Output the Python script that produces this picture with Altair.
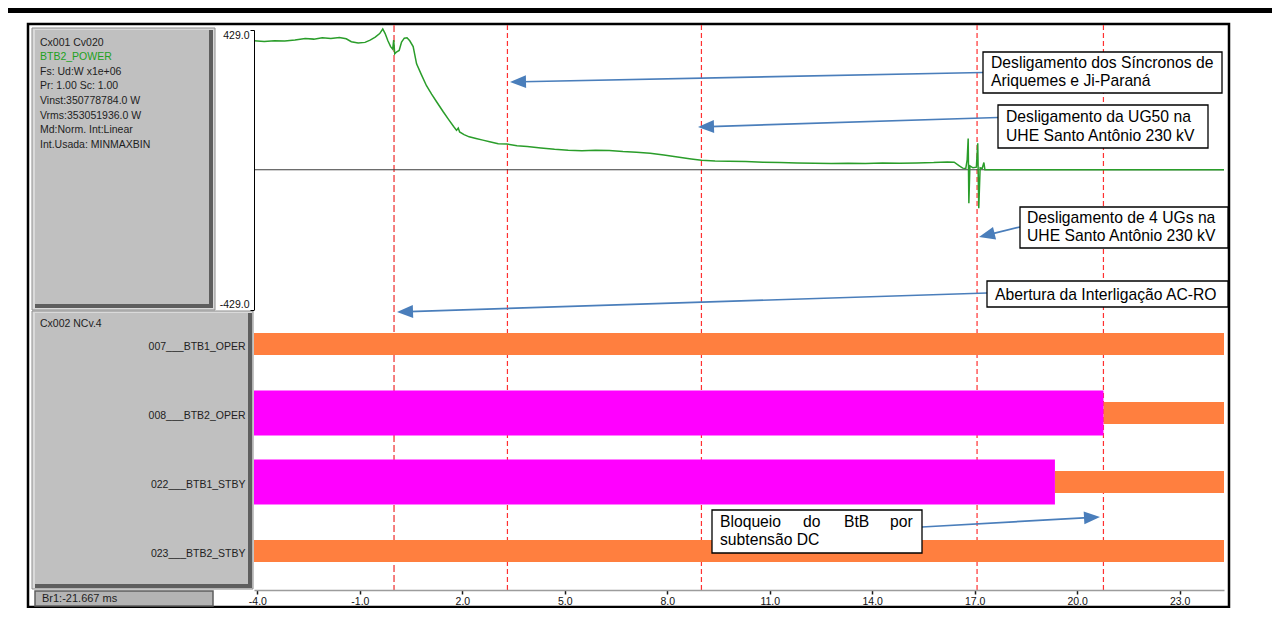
import math
import altair as alt
import pandas as pd

# ---------------- values ----------------
t_power = [-4.10, -3.80, -3.50, -3.20, -2.90, -2.60, -2.35, -2.10, -1.85, -1.60,
           -1.40, -1.25, -1.05, -0.85, -0.70, -0.55, -0.42, -0.33, -0.26, -0.18,
           -0.10, -0.04, -0.01, 0.02, 0.08, 0.15, 0.22, 0.30, 0.38, 0.46,
           0.56, 0.66, 0.80, 0.95, 1.10, 1.25, 1.44, 1.60, 1.75, 1.83,
           1.88, 1.92, 2.05, 2.20, 2.40, 2.60, 2.80, 3.05, 3.30, 3.60,
           3.90, 4.30, 4.70, 5.10, 5.50, 5.90, 6.30, 6.70, 7.10, 7.50,
           7.90, 8.30, 8.70, 9.00, 9.40, 9.80, 10.30, 10.80, 11.30, 11.80,
           12.30, 12.80, 13.30, 13.80, 14.30, 14.80, 15.30, 15.80, 16.20, 16.40,
           16.55, 16.65, 16.74, 16.78, 16.81, 16.83, 16.86, 16.95, 17.05, 17.09,
           17.12, 17.16, 17.22, 17.27, 17.30, 24.30]
p_power = [396, 394, 396, 395, 398, 403, 401, 405, 403, 406,
           402, 393, 389, 391, 398, 407, 418, 432, 418, 396,
           378, 370, 398, 356, 362, 366, 392, 404, 405, 396,
           378, 325, 292, 258, 232, 208, 178, 154, 132, 121,
           128, 116, 108, 101, 96, 91, 86, 80, 79, 74,
           71, 67, 63, 60, 58, 60, 59, 56, 54, 51,
           45, 39, 33, 29, 27, 26, 25, 23, 22, 21,
           20, 19, 20, 19, 21, 20, 21, 22, 24, 23,
           12, 5, 4, 30, 96, -103, 12, 6, 8, 81,
           -118, 6, 4, 22, 0, 0]

signal_names = ["007___BTB1_OPER", "008___BTB2_OPER", "022___BTB1_STBY", "023___BTB2_STBY"]
seg_signal = ["007___BTB1_OPER", "008___BTB2_OPER", "008___BTB2_OPER",
              "022___BTB1_STBY", "022___BTB1_STBY", "023___BTB2_STBY"]
seg_start = [-4.1, -4.1, 20.77, -4.1, 19.35, -4.1]
seg_end = [24.3, 20.77, 24.3, 19.35, 24.3, 24.3]
seg_state = [0, 1, 0, 1, 0, 0]

event_times = [0.0, 3.32, 9.0, 17.07, 20.77]
x_ticks = [-4.0, -1.0, 2.0, 5.0, 8.0, 11.0, 14.0, 17.0, 20.0, 23.0]
x_limits = [-4.1, 24.3]
y_limits = [-429.0, 429.0]

info_lines = ["Cx001 Cv020", "BTB2_POWER", "Fs: Ud:W x1e+06", "Pr: 1.00  Sc: 1.00",
              "Vinst:350778784.0 W", "Vrms:353051936.0 W", "Md:Norm.  Int:Linear",
              "Int.Usada: MINMAXBIN"]
group2_title = "Cx002 NCv.4"
cursor_label = "Br1:-21.667 ms"

note_texts = [
    ["Desligamento dos Síncronos de", "Ariquemes e Ji-Paraná"],
    ["Desligamento da UG50 na", "UHE Santo Antônio 230 kV"],
    ["Desligamento de 4 UGs na", "UHE Santo Antônio 230 kV"],
    ["Abertura da Interligação AC-RO"],
    ["Bloqueio", "do", "BtB", "por", "subtensão DC"],
]

# ---------------- layout (page pixels) ----------------
OX, OY = 254, 30
W, H = 970, 560
TOP_RANGE = [279.5, 0]
BAND_RANGE = [279.5, 555.5]
FONT = "Liberation Sans"
LABEL_EXPR = "(datum.value < 0 ? '-' : '') + format(abs(datum.value), '.1f')"


def gx(v):
    return v - OX


def gy(v):
    return v - OY


x_scale = alt.Scale(domain=x_limits, nice=False, zero=False)
x_axis = alt.Axis(values=x_ticks, labelExpr=LABEL_EXPR, grid=False, title=None,
                  domainColor="#9c9c9c", domainWidth=1.5, tickColor="#1a1a1a",
                  tickWidth=1.5, tickSize=4, labelPadding=2, labelFontSize=10.5,
                  labelColor="#111111", labelFont=FONT, labelFlush=False,
                  labelOverlap=False, zindex=1)


def X(field):
    return alt.X(field, type="quantitative", scale=x_scale, axis=x_axis)


def PX(field):
    return alt.X(field, type="quantitative", scale=None, axis=None)


def PY(field):
    return alt.Y(field, type="quantitative", scale=None, axis=None)


# ---------------- power trace panel ----------------
power_df = pd.DataFrame({"t": t_power, "p": p_power})
top_scale = alt.Scale(domain=y_limits, range=TOP_RANGE, nice=False, zero=False)
top_axis = alt.Axis(orient="left", values=y_limits, labelExpr=LABEL_EXPR, labelFlush=True,
                    grid=False, title=None, domainColor="#000000", tickColor="#000000",
                    tickSize=4, labelPadding=1, labelFontSize=10.5, labelFont=FONT,
                    labelColor="#111111", zindex=1)

zero_line = alt.Chart(pd.DataFrame({"p": [0.0]})).mark_rule(
    color="#3c3c3c", strokeWidth=1).encode(
    y=alt.Y("p:Q", scale=top_scale, axis=top_axis))
power_line = alt.Chart(power_df).mark_line(color="#2a9d2a", strokeWidth=1.5).encode(
    x=X("t"), y=alt.Y("p:Q", scale=top_scale, axis=top_axis))
top_panel = alt.layer(zero_line, power_line)

# ---------------- digital channels panel ----------------
seg_df = pd.DataFrame({"signal": seg_signal, "start": seg_start,
                       "end": seg_end, "state": seg_state})
band_y = alt.Y("signal:N",
               scale=alt.Scale(domain=signal_names, range=BAND_RANGE,
                               paddingInner=0, paddingOuter=0),
               axis=alt.Axis(orient="left", domain=False, ticks=False, labelPadding=9,
                             labelFont=FONT, labelFontSize=10.5, labelColor="#222222",
                             labelOffset=3, title=None, zindex=1))
bars_off = alt.Chart(seg_df).transform_filter("datum.state == 0").mark_bar(
    color="#FF7F3F", size=22).encode(x=X("start"), x2="end", y=band_y)
bars_on = alt.Chart(seg_df).transform_filter("datum.state == 1").mark_bar(
    color="#FF00FF", size=45).encode(x=X("start"), x2="end", y=band_y)
bars_panel = alt.layer(bars_off, bars_on)

# ---------------- event cursors ----------------
ev_df = pd.DataFrame({"t": event_times})
trip_rule = alt.Chart(ev_df.iloc[:1]).mark_rule(
    color="#F26060", strokeWidth=1.6, strokeDash=[7, 3]).encode(
    x=X("t"), y=alt.value(gy(25)), y2=alt.value(gy(590)))
event_rules = alt.Chart(ev_df.iloc[1:]).mark_rule(
    color="#FF3030", strokeWidth=1.2, strokeDash=[5, 3]).encode(
    x=X("t"), y=alt.value(gy(25)), y2=alt.value(gy(590)))

# ---------------- decorations (frame, side panels) ----------------
deco_rects = [
    # x0, y0, x1, y1, fill, stroke, stroke width
    (8, 8, 1272, 13, "#000000", "transparent", 0),
    (28, 24, 1229, 607, "transparent", "#000000", 2.5),
    (32, 28, 215, 310, "#dadada", "#8c8c8c", 1),
    (35, 30, 213, 308, "#5e5e5e", "transparent", 0),
    (35, 30, 209, 304, "#c0c0c0", "transparent", 0),
    (32, 311, 253, 589, "#dadada", "#8c8c8c", 1),
    (35, 313, 252, 588, "#5e5e5e", "transparent", 0),
    (35, 313, 248, 584, "#c0c0c0", "transparent", 0),
    (35, 591, 213, 606, "#b4b4b4", "#5e5e5e", 1.5),
]
deco_df = pd.DataFrame({
    "x0": [gx(r[0]) for r in deco_rects], "y0": [gy(r[1]) for r in deco_rects],
    "x1": [gx(r[2]) for r in deco_rects], "y1": [gy(r[3]) for r in deco_rects],
    "fill": [r[4] for r in deco_rects], "stroke": [r[5] for r in deco_rects],
    "sw": [r[6] for r in deco_rects]})
deco = alt.Chart(deco_df).mark_rect().encode(
    x=PX("x0"), x2="x1", y=PY("y0"), y2="y1",
    fill=alt.Fill("fill:N", scale=None), stroke=alt.Stroke("stroke:N", scale=None),
    strokeWidth=alt.StrokeWidth("sw:Q", scale=None))

side_texts = []
for i, line in enumerate(info_lines):
    side_texts.append((line, 40, 42.5 + 14.6 * i, "#22a022" if i == 1 else "#1e1e1e", 10.5))
side_texts.append((group2_title, 40, 324, "#1e1e1e", 10.5))
side_texts.append((cursor_label, 42, 599, "#1e1e1e", 11))
side_df = pd.DataFrame({"text": [s[0] for s in side_texts],
                        "x": [gx(s[1]) for s in side_texts],
                        "y": [gy(s[2]) for s in side_texts],
                        "color": [s[3] for s in side_texts],
                        "size": [s[4] for s in side_texts]})
side_text = alt.Chart(side_df).mark_text(align="left", baseline="middle", font=FONT).encode(
    x=PX("x"), y=PY("y"), text="text:N",
    color=alt.Color("color:N", scale=None), size=alt.Size("size:Q", scale=None))

# ---------------- annotations ----------------
note_boxes = [(983, 52, 1222, 93), (998, 105, 1208, 148), (1020, 207, 1228, 248),
              (987, 281, 1228, 307), (712, 510, 922, 553)]
note_text_pos = [
    [(991, 62.5), (991, 81)],
    [(1006, 117), (1006, 135.5)],
    [(1027, 217.5), (1027, 236)],
    [(995, 294.5)],
    [(720, 522), (803, 522), (844, 522), (890, 522), (720, 540)],
]
note_arrows = [(983, 72.5, 510, 82), (998, 117.5, 698, 127), (1020, 227, 979, 237),
               (987, 293, 397, 312), (922, 527, 1100, 517)]

box_df = pd.DataFrame({"x0": [gx(b[0]) for b in note_boxes], "y0": [gy(b[1]) for b in note_boxes],
                       "x1": [gx(b[2]) for b in note_boxes], "y1": [gy(b[3]) for b in note_boxes]})
txt_rows = []
for texts, poss in zip(note_texts, note_text_pos):
    for s, (tx, ty) in zip(texts, poss):
        txt_rows.append({"text": s, "x": gx(tx), "y": gy(ty)})
txt_df = pd.DataFrame(txt_rows)

arrow_rows, head_rows = [], []
for sx, sy, tx, ty in note_arrows:
    dx, dy = tx - sx, ty - sy
    d = math.hypot(dx, dy)
    ux, uy = dx / d, dy / d
    arrow_rows.append({"x0": gx(sx), "y0": gy(sy), "x1": gx(tx - 12 * ux), "y1": gy(ty - 12 * uy)})
    head_rows.append({"x": gx(tx - 8 * ux), "y": gy(ty - 8 * uy),
                      "ang": math.degrees(math.atan2(dy, dx)) % 360})
arrow_df = pd.DataFrame(arrow_rows)
head_df = pd.DataFrame(head_rows)

ARROW_BLUE = "#4A7EBB"
note_lines = alt.Chart(arrow_df).mark_rule(color=ARROW_BLUE, strokeWidth=1.7).encode(
    x=PX("x0"), x2="x1", y=PY("y0"), y2="y1")
note_heads = alt.Chart(head_df).mark_point(
    shape="M1,0L-1,-0.8L-1,0.8Z", filled=True, size=256, color=ARROW_BLUE,
    opacity=1, strokeWidth=0).encode(
    x=PX("x"), y=PY("y"), angle=alt.Angle("ang:Q", scale=None))
note_box = alt.Chart(box_df).mark_rect(fill="white", stroke="black", strokeWidth=1.3).encode(
    x=PX("x0"), x2="x1", y=PY("y0"), y2="y1")
note_text = alt.Chart(txt_df).mark_text(
    align="left", baseline="middle", font=FONT, fontSize=15.7, color="black").encode(
    x=PX("x"), y=PY("y"), text="text:N")

chart = alt.layer(
    deco, trip_rule, event_rules, bars_panel, top_panel, side_text,
    note_lines, note_heads, note_box, note_text
).resolve_scale(y="independent").properties(
    width=W, height=H,
    padding={"left": 246, "top": 22, "right": 48, "bottom": 18},
    autosize=alt.AutoSizeParams(type="none"),
    background="white",
).configure_view(stroke=None)

chart.save("out.html", embed_options={"renderer": "svg", "actions": False})
